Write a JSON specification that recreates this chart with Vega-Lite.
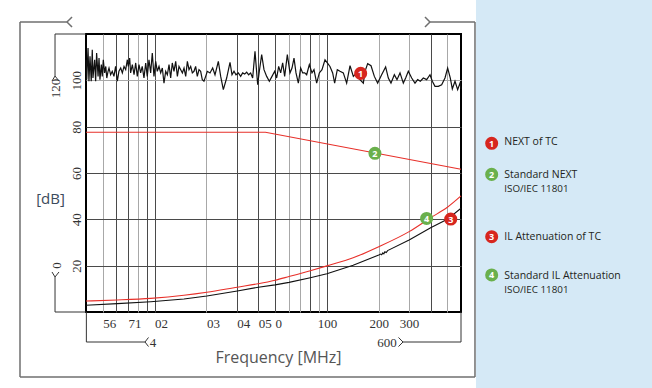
{
  "$schema": "https://vega.github.io/schema/vega-lite/v6.json",
  "width": 375,
  "height": 278,
  "autosize": {"type": "none"},
  "padding": {"left": 86, "top": 34, "right": 191, "bottom": 76},
  "background": "#ffffff",
  "config": {
    "view": {"stroke": "#000000", "strokeWidth": 2}
  },
  "datasets": {
    "panel": [{"f": 733, "f2": 7700, "db": 134.7, "db2": -32.8}],
    "frame": [
      {"f": 1.656, "f2": 3.103, "db": 125.18, "db2": 125.18},
      {"f": 3.103, "f2": 3.318, "db": 125.18, "db2": 127.34},
      {"f": 3.103, "f2": 3.318, "db": 125.18, "db2": 123.02},
      {"f": 396.5, "f2": 723.2, "db": 125.18, "db2": 125.18},
      {"f": 396.5, "f2": 370.8, "db": 125.18, "db2": 127.34},
      {"f": 396.5, "f2": 370.8, "db": 125.18, "db2": 123.02},
      {"f": 1.656, "f2": 1.656, "db": 125.18, "db2": -28.06},
      {"f": 723.2, "f2": 723.2, "db": 125.18, "db2": -28.06},
      {"f": 1.656, "f2": 723.2, "db": -28.06, "db2": -28.06}
    ],
    "brackets": [
      {"f": 2.644, "f2": 4, "db": 120, "db2": 120},
      {"f": 2.644, "f2": 2.644, "db": 120, "db2": 101.87},
      {"f": 2.644, "f2": 2.54, "db": 101.87, "db2": 99.71},
      {"f": 2.644, "f2": 2.788, "db": 101.87, "db2": 99.71},
      {"f": 2.644, "f2": 4, "db": 0, "db2": 0},
      {"f": 2.644, "f2": 2.644, "db": 0, "db2": 15.11},
      {"f": 2.644, "f2": 2.54, "db": 15.11, "db2": 17.27},
      {"f": 2.644, "f2": 2.788, "db": 15.11, "db2": 17.27},
      {"f": 4.02, "f2": 4.02, "db": 0, "db2": -12.95},
      {"f": 4.02, "f2": 8.8, "db": -12.95, "db2": -12.95},
      {"f": 8.8, "f2": 9.22, "db": -12.95, "db2": -11.0},
      {"f": 8.8, "f2": 9.22, "db": -12.95, "db2": -14.9},
      {"f": 276.5, "f2": 260.3, "db": -12.95, "db2": -11.0},
      {"f": 276.5, "f2": 260.3, "db": -12.95, "db2": -14.9},
      {"f": 276.5, "f2": 600, "db": -12.95, "db2": -12.95},
      {"f": 600, "f2": 600, "db": -12.95, "db2": 0}
    ],
    "stdnext": [
      {"f": 4, "db": 77.6},
      {"f": 44, "db": 77.6},
      {"f": 600, "db": 61.6}
    ],
    "stdil": [
      {"f": 4, "db": 4.75}, {"f": 6.08, "db": 5.2}, {"f": 9.5, "db": 5.9}, {"f": 14.8, "db": 7.2},
      {"f": 20.1, "db": 8.5}, {"f": 30.2, "db": 10.7}, {"f": 40, "db": 12.2}, {"f": 50, "db": 13.7},
      {"f": 60.3, "db": 15.3}, {"f": 80.1, "db": 17.8}, {"f": 100, "db": 19.9}, {"f": 142, "db": 23.4},
      {"f": 200, "db": 28.2}, {"f": 300, "db": 34.7}, {"f": 400, "db": 40.7}, {"f": 500, "db": 45.2},
      {"f": 600, "db": 50.1}
    ],
    "il": [
      {"f": 4, "db": 2.9}, {"f": 6.08, "db": 3.6}, {"f": 9.5, "db": 4.45}, {"f": 14.8, "db": 5.6},
      {"f": 20.1, "db": 6.9}, {"f": 30.2, "db": 9.1}, {"f": 40, "db": 10.7}, {"f": 50, "db": 11.7},
      {"f": 60.3, "db": 12.8}, {"f": 80.1, "db": 14.8}, {"f": 100, "db": 16.5}, {"f": 142, "db": 20.2},
      {"f": 200, "db": 24.6}, {"f": 205, "db": 25.0}, {"f": 208, "db": 24.7}, {"f": 211, "db": 25.5},
      {"f": 214, "db": 25.1}, {"f": 217, "db": 26.0}, {"f": 221, "db": 25.7}, {"f": 225, "db": 26.5},
      {"f": 300, "db": 31.1}, {"f": 400, "db": 36.4}, {"f": 500, "db": 40.0}, {"f": 600, "db": 44.8}
    ],
    "next": [
      {"f": 4.0, "db": 108.9}, {"f": 4.04, "db": 100.3}, {"f": 4.11, "db": 114.0}, {"f": 4.16, "db": 99.6},
      {"f": 4.22, "db": 110.4}, {"f": 4.29, "db": 99.6}, {"f": 4.35, "db": 113.2}, {"f": 4.39, "db": 101.0},
      {"f": 4.49, "db": 108.9}, {"f": 4.55, "db": 99.6}, {"f": 4.61, "db": 111.8}, {"f": 4.70, "db": 101.7},
      {"f": 4.76, "db": 109.6}, {"f": 4.82, "db": 100.3}, {"f": 4.91, "db": 106.8}, {"f": 4.97, "db": 101.7},
      {"f": 5.04, "db": 108.9}, {"f": 5.13, "db": 103.2}, {"f": 5.21, "db": 106.0}, {"f": 5.28, "db": 101.0},
      {"f": 5.37, "db": 103.9}, {"f": 5.44, "db": 105.3}, {"f": 5.56, "db": 102.4}, {"f": 5.68, "db": 103.9},
      {"f": 5.81, "db": 101.7}, {"f": 5.94, "db": 106.0}, {"f": 6.08, "db": 99.6}, {"f": 6.21, "db": 103.9},
      {"f": 6.36, "db": 105.3}, {"f": 6.50, "db": 103.2}, {"f": 6.65, "db": 106.0}, {"f": 6.80, "db": 104.6},
      {"f": 6.95, "db": 108.9}, {"f": 7.04, "db": 106.0}, {"f": 7.17, "db": 109.6}, {"f": 7.26, "db": 103.2},
      {"f": 7.43, "db": 106.8}, {"f": 7.60, "db": 102.4}, {"f": 7.77, "db": 107.5}, {"f": 7.94, "db": 101.7},
      {"f": 8.12, "db": 106.8}, {"f": 8.30, "db": 103.2}, {"f": 8.48, "db": 106.0}, {"f": 8.68, "db": 101.0},
      {"f": 8.88, "db": 107.5}, {"f": 9.07, "db": 101.7}, {"f": 9.28, "db": 108.9}, {"f": 9.49, "db": 103.2},
      {"f": 9.70, "db": 111.8}, {"f": 9.92, "db": 101.7}, {"f": 10.15, "db": 108.2}, {"f": 10.37, "db": 103.9},
      {"f": 10.61, "db": 106.0}, {"f": 10.85, "db": 103.2}, {"f": 11.09, "db": 105.3}, {"f": 11.34, "db": 98.8},
      {"f": 11.60, "db": 103.9}, {"f": 11.86, "db": 102.4}, {"f": 12.13, "db": 106.8}, {"f": 12.40, "db": 101.0},
      {"f": 12.67, "db": 107.5}, {"f": 12.96, "db": 103.9}, {"f": 13.26, "db": 108.2}, {"f": 13.56, "db": 101.7},
      {"f": 13.86, "db": 106.0}, {"f": 14.18, "db": 104.6}, {"f": 14.50, "db": 103.2}, {"f": 14.82, "db": 105.3},
      {"f": 15.16, "db": 101.7}, {"f": 15.50, "db": 108.2}, {"f": 15.84, "db": 104.6}, {"f": 16.20, "db": 106.0},
      {"f": 16.56, "db": 103.2}, {"f": 16.93, "db": 103.9}, {"f": 17.31, "db": 106.0}, {"f": 17.70, "db": 101.7},
      {"f": 18.10, "db": 104.6}, {"f": 18.51, "db": 103.9}, {"f": 18.92, "db": 100.3}, {"f": 19.35, "db": 99.6},
      {"f": 19.79, "db": 101.7}, {"f": 20.23, "db": 103.9},
      {"f": 20.97, "db": 103.2}, {"f": 21.73, "db": 105.3}, {"f": 22.42, "db": 102.4}, {"f": 23.44, "db": 108.2},
      {"f": 24.19, "db": 101.7}, {"f": 25.06, "db": 96.0}, {"f": 26.20, "db": 101.0}, {"f": 27.40, "db": 107.8},
      {"f": 28.14, "db": 102.4}, {"f": 28.90, "db": 103.9}, {"f": 29.68, "db": 102.4}, {"f": 30.62, "db": 103.2},
      {"f": 31.59, "db": 101.7}, {"f": 32.45, "db": 103.2}, {"f": 33.32, "db": 102.7}, {"f": 34.22, "db": 103.5},
      {"f": 35.15, "db": 102.4}, {"f": 36.10, "db": 103.2}, {"f": 37.08, "db": 101.0}, {"f": 38.26, "db": 112.5},
      {"f": 39.65, "db": 98.1}, {"f": 40.54, "db": 103.9}, {"f": 41.83, "db": 111.1}, {"f": 43.15, "db": 104.6},
      {"f": 44.72, "db": 101.7}, {"f": 46.34, "db": 99.6}, {"f": 48.02, "db": 101.7}, {"f": 49.76, "db": 103.9},
      {"f": 51.11, "db": 101.0}, {"f": 52.49, "db": 106.0}, {"f": 53.91, "db": 103.2}, {"f": 55.37, "db": 107.5},
      {"f": 56.87, "db": 101.7}, {"f": 58.94, "db": 111.1}, {"f": 61.07, "db": 103.2}, {"f": 62.73, "db": 105.3},
      {"f": 64.43, "db": 109.6}, {"f": 66.17, "db": 103.2}, {"f": 68.26, "db": 98.8}, {"f": 70.43, "db": 105.3},
      {"f": 72.34, "db": 103.2}, {"f": 74.30, "db": 103.2}, {"f": 76.31, "db": 102.4}, {"f": 79.07, "db": 106.8},
      {"f": 81.94, "db": 103.2}, {"f": 84.16, "db": 104.6}, {"f": 87.21, "db": 98.8}, {"f": 90.37, "db": 103.2},
      {"f": 93.65, "db": 104.6}, {"f": 97.48, "db": 108.9}, {"f": 100.57, "db": 107.5}, {"f": 104.2, "db": 106.0},
      {"f": 108.0, "db": 103.2}, {"f": 110.9, "db": 98.8}, {"f": 114.9, "db": 104.6},
      {"f": 119.1, "db": 103.9}, {"f": 124.5, "db": 103.2}, {"f": 130.2, "db": 98.8}, {"f": 136.2, "db": 106.3},
      {"f": 142.4, "db": 101.7}, {"f": 148.8, "db": 103.2}, {"f": 155.6, "db": 100.3}, {"f": 162.7, "db": 98.8},
      {"f": 166.4, "db": 103.9}, {"f": 172.4, "db": 107.2}, {"f": 180.3, "db": 106.3}, {"f": 188.5, "db": 101.7},
      {"f": 197.0, "db": 98.8}, {"f": 207.8, "db": 102.4}, {"f": 219.2, "db": 105.8}, {"f": 227.2, "db": 101.0},
      {"f": 235.4, "db": 98.8}, {"f": 246.2, "db": 102.4}, {"f": 255.1, "db": 100.3}, {"f": 265.6, "db": 103.2},
      {"f": 277.6, "db": 98.8}, {"f": 286.4, "db": 101.0}, {"f": 296.8, "db": 103.9}, {"f": 310.4, "db": 101.0},
      {"f": 324.5, "db": 98.8}, {"f": 336.3, "db": 100.3}, {"f": 348.4, "db": 99.6}, {"f": 362.7, "db": 101.0},
      {"f": 379.3, "db": 100.3}, {"f": 396.5, "db": 102.4}, {"f": 409.0, "db": 99.6}, {"f": 423.9, "db": 97.4},
      {"f": 443.1, "db": 97.4}, {"f": 463.3, "db": 98.1}, {"f": 484.4, "db": 101.0}, {"f": 502.0, "db": 105.3},
      {"f": 520.2, "db": 101.0}, {"f": 534.3, "db": 96.3}, {"f": 553.7, "db": 99.6}, {"f": 573.8, "db": 96.0},
      {"f": 592.2, "db": 98.8}, {"f": 600, "db": 96.3}
    ],
    "markers": [
      {"f": 157, "db": 103.0, "n": "1", "kind": "TC"},
      {"f": 190, "db": 68.5, "n": "2", "kind": "Standard"},
      {"f": 523, "db": 40.1, "n": "3", "kind": "TC"},
      {"f": 379, "db": 40.4, "n": "4", "kind": "Standard"},
      {"f": 904, "db": 72.8, "n": "1", "kind": "TC"},
      {"f": 904, "db": 59.4, "n": "2", "kind": "Standard"},
      {"f": 904, "db": 32.5, "n": "3", "kind": "TC"},
      {"f": 904, "db": 16.0, "n": "4", "kind": "Standard"}
    ],
    "legend": [
      {"f": 1070, "db": 73.26, "label": "NEXT of TC", "line": "main"},
      {"f": 1070, "db": 59.14, "label": "Standard NEXT", "line": "main"},
      {"f": 1070, "db": 53.1, "label": "ISO/IEC 11801", "line": "sub"},
      {"f": 1070, "db": 32.5, "label": "IL Attenuation of TC", "line": "main"},
      {"f": 1070, "db": 15.67, "label": "Standard IL Attenuation", "line": "main"},
      {"f": 1070, "db": 9.5, "label": "ISO/IEC 11801", "line": "sub"}
    ],
    "endlabels_v": [
      {"f": 2.68, "db": 96.5, "label": "120"},
      {"f": 2.70, "db": 20.1, "label": "0"}
    ],
    "endlabels_h": [
      {"f": 9.79, "db": -13.2, "label": "4"},
      {"f": 223.2, "db": -13.2, "label": "600"}
    ]
  },
  "encoding": {
    "x": {
      "field": "f",
      "type": "quantitative",
      "scale": {"type": "log", "domain": [4, 600], "nice": false},
      "axis": {
        "values": [5, 6, 7, 8, 9, 10, 20, 30, 40, 50, 60, 70, 80, 90, 100, 200, 300, 400, 500],
        "grid": true,
        "gridColor": {"condition": {"test": "indexof([5, 8, 20, 60, 70, 90, 200, 300, 500], datum.value) >= 0", "value": "#a8a8a8"}, "value": "#4a4a4a"},
        "gridWidth": 1,
        "ticks": false,
        "tickSize": 0,
        "domain": false,
        "labelExpr": "datum.value == 5 ? '56' : datum.value == 7 ? '71' : datum.value == 10 ? '02' : datum.value == 20 ? '03' : datum.value == 30 ? '04' : datum.value == 40 ? '05' : datum.value == 50 ? '0' : datum.value == 100 ? '100' : datum.value == 200 ? '200' : datum.value == 300 ? '300' : ''",
        "labelAlign": {"condition": {"test": "datum.value < 100", "value": "left"}, "value": "center"},
        "labelBaseline": "middle",
        "labelFont": "Liberation Serif",
        "labelFontSize": 13,
        "labelColor": "#333333",
        "labelPadding": 11,
        "labelOverlap": false,
        "labelBound": false,
        "labelFlush": false,
        "title": "Frequency [MHz]",
        "titleFont": "Open Sans",
        "titleFontSize": 16,
        "titleFontWeight": "normal",
        "titleColor": "#555555",
        "titleX": 192,
        "titleY": 45,
        "titleAlign": "center",
        "titleBaseline": "middle"
      }
    },
    "y": {
      "field": "db",
      "type": "quantitative",
      "scale": {"domain": [0, 120], "nice": false},
      "axis": {
        "values": [20, 40, 60, 80, 100],
        "grid": true,
        "gridColor": {"condition": {"test": "datum.value == 100", "value": "#a8a8a8"}, "value": "#4a4a4a"},
        "gridWidth": 1,
        "ticks": false,
        "tickSize": 0,
        "domain": false,
        "labelAngle": 270,
        "labelAlign": "center",
        "labelBaseline": "alphabetic",
        "labelFont": "Liberation Serif",
        "labelFontSize": 13,
        "labelColor": "#333333",
        "labelPadding": 6,
        "labelOverlap": false,
        "labelBound": false,
        "labelFlush": false,
        "title": "[dB]",
        "titleAngle": 0,
        "titleFont": "Open Sans",
        "titleFontSize": 15,
        "titleFontWeight": "normal",
        "titleColor": "#3c4a5c",
        "titleX": -36,
        "titleY": 164,
        "titleAlign": "center",
        "titleBaseline": "middle"
      }
    }
  },
  "layer": [
    {
      "data": {"name": "panel"},
      "mark": {"type": "rect", "color": "#d5e9f6"},
      "encoding": {"x2": {"field": "f2"}, "y2": {"field": "db2"}}
    },
    {
      "data": {"name": "frame"},
      "mark": {"type": "rule", "color": "#6f6f6f", "strokeWidth": 1.5},
      "encoding": {"x2": {"field": "f2"}, "y2": {"field": "db2"}}
    },
    {
      "data": {"name": "brackets"},
      "mark": {"type": "rule", "color": "#333333", "strokeWidth": 1},
      "encoding": {"x2": {"field": "f2"}, "y2": {"field": "db2"}}
    },
    {
      "data": {"name": "stdnext"},
      "mark": {"type": "line", "color": "#e8302a", "strokeWidth": 1.1},
      "encoding": {}
    },
    {
      "data": {"name": "stdil"},
      "mark": {"type": "line", "color": "#e8302a", "strokeWidth": 1.1, "interpolate": "monotone"},
      "encoding": {}
    },
    {
      "data": {"name": "il"},
      "mark": {"type": "line", "color": "#111111", "strokeWidth": 1.1},
      "encoding": {}
    },
    {
      "data": {"name": "next"},
      "mark": {"type": "line", "color": "#111111", "strokeWidth": 1.2},
      "encoding": {}
    },
    {
      "data": {"name": "markers"},
      "mark": {"type": "point", "filled": true, "opacity": 1, "size": 170, "shape": "circle"},
      "encoding": {
        "color": {"field": "kind", "type": "nominal", "scale": {"domain": ["TC", "Standard"], "range": ["#d7261e", "#6ab04c"]}, "legend": null}
      }
    },
    {
      "data": {"name": "markers"},
      "mark": {"type": "text", "color": "#ffffff", "fontSize": 9, "fontWeight": "bold", "font": "Open Sans", "align": "center", "baseline": "middle", "dy": 0.5},
      "encoding": {"text": {"field": "n"}}
    },
    {
      "data": {"name": "legend"},
      "transform": [{"filter": "datum.line == 'main'"}],
      "mark": {"type": "text", "color": "#231f20", "fontSize": 10.5, "font": "Open Sans", "align": "left", "baseline": "middle"},
      "encoding": {"text": {"field": "label"}}
    },
    {
      "data": {"name": "legend"},
      "transform": [{"filter": "datum.line == 'sub'"}],
      "mark": {"type": "text", "color": "#231f20", "fontSize": 9.8, "font": "Open Sans", "align": "left", "baseline": "middle"},
      "encoding": {"text": {"field": "label"}}
    },
    {
      "data": {"name": "endlabels_v"},
      "mark": {"type": "text", "color": "#333333", "fontSize": 13, "font": "Liberation Serif", "align": "center", "baseline": "middle", "angle": 270},
      "encoding": {"text": {"field": "label"}}
    },
    {
      "data": {"name": "endlabels_h"},
      "mark": {"type": "text", "color": "#333333", "fontSize": 13, "font": "Liberation Serif", "align": "center", "baseline": "middle"},
      "encoding": {"text": {"field": "label"}}
    }
  ]
}
